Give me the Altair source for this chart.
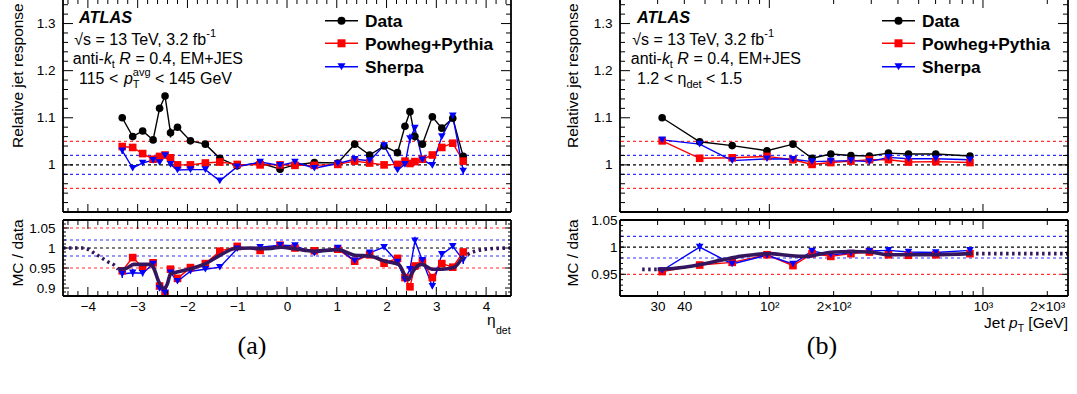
import altair as alt
import numpy as np
import pandas as pd

# ---------------- (a) relative response vs eta_det, 115 < pT^avg < 145 GeV ----------------
eta_bins = [-3.31, -3.10, -2.90, -2.69, -2.56, -2.45, -2.34, -2.20, -1.94, -1.64, -1.35, -1.00, -0.54, -0.14,
            0.16, 0.55, 1.02, 1.36, 1.66, 1.95, 2.22, 2.37, 2.47, 2.57, 2.72, 2.92, 3.11, 3.33, 3.54]
resp_data_eta = [1.100, 1.060, 1.072, 1.053, 1.120, 1.146, 1.068, 1.080, 1.051, 1.044, 1.014, 0.998, 1.004, 0.991,
                 1.000, 1.005, 1.004, 1.044, 1.021, 1.040, 1.026, 1.082, 1.113, 1.060, 1.044, 1.102, 1.078, 1.099, 1.018]
resp_powheg_eta = [1.039, 1.037, 1.024, 1.012, 1.018, 1.021, 1.015, 1.000, 1.000, 1.004, 1.006, 1.001, 1.000, 1.000,
                   0.999, 0.999, 1.001, 1.008, 1.004, 1.000, 1.001, 1.008, 1.003, 1.007, 1.012, 1.021, 1.037, 1.046, 1.008]
resp_sherpa_eta = [1.030, 0.993, 1.004, 1.010, 1.005, 1.020, 1.001, 0.989, 0.990, 0.990, 0.966, 0.996, 1.006, 0.999,
                   1.006, 0.993, 1.003, 1.012, 1.009, 1.041, 0.989, 1.001, 1.056, 1.078, 1.011, 0.999, 1.060, 1.104, 0.987]
err_data_eta = [0.003, 0.004, 0.005, 0.005, 0.005, 0.005, 0.010, 0.004, 0.003, 0.003, 0.003, 0.002, 0.002, 0.002,
                0.002, 0.002, 0.002, 0.003, 0.003, 0.003, 0.003, 0.005, 0.005, 0.008, 0.005, 0.005, 0.004, 0.004, 0.004]
err_powheg_eta = [0.002, 0.002, 0.002, 0.002, 0.002, 0.002, 0.002, 0.002, 0.002, 0.002, 0.002, 0.002, 0.002, 0.002,
                  0.002, 0.002, 0.002, 0.002, 0.002, 0.002, 0.002, 0.002, 0.002, 0.002, 0.002, 0.002, 0.002, 0.002, 0.002]
err_sherpa_eta = [0.007, 0.003, 0.003, 0.003, 0.004, 0.004, 0.003, 0.003, 0.002, 0.002, 0.002, 0.002, 0.002, 0.002,
                  0.002, 0.002, 0.002, 0.002, 0.003, 0.003, 0.003, 0.004, 0.010, 0.005, 0.004, 0.004, 0.004, 0.004, 0.008]
ratio_powheg_eta = [0.943, 0.976, 0.952, 0.963, 0.905, 0.885, 0.947, 0.924, 0.951, 0.961, 0.992, 1.004, 0.994, 1.007,
                    1.000, 0.993, 0.997, 0.967, 0.983, 0.962, 0.974, 0.926, 0.903, 0.955, 0.966, 0.926, 0.961, 0.952, 0.990]
ratio_sherpa_eta = [0.935, 0.938, 0.937, 0.960, 0.899, 0.888, 0.938, 0.917, 0.942, 0.947, 0.952, 0.998, 1.002, 1.007,
                    1.006, 0.987, 1.000, 0.968, 0.988, 1.002, 0.965, 0.921, 0.947, 1.018, 0.969, 0.904, 0.984, 1.004, 0.970]
err_rpowheg_eta = [0.004, 0.004, 0.004, 0.004, 0.005, 0.005, 0.005, 0.004, 0.003, 0.003, 0.003, 0.002, 0.002, 0.002,
                   0.002, 0.002, 0.002, 0.003, 0.003, 0.003, 0.003, 0.004, 0.005, 0.005, 0.004, 0.004, 0.004, 0.004, 0.004]
err_rsherpa_eta = [0.010, 0.010, 0.008, 0.004, 0.006, 0.006, 0.005, 0.004, 0.003, 0.003, 0.003, 0.002, 0.002, 0.002,
                   0.002, 0.002, 0.002, 0.003, 0.003, 0.003, 0.004, 0.005, 0.006, 0.010, 0.005, 0.005, 0.005, 0.005, 0.010]
# smoothed combination (solid inside the measured range, dotted extrapolation outside)
fit_eta_x = [-3.39, -3.25, -3.08, -2.93, -2.75, -2.68, -2.58, -2.48, -2.41, -2.34, -2.21, -2.00, -1.67, -1.33, -1.06,
             -0.73, -0.53, -0.32, -0.12, 0.15, 0.55, 1.02, 1.36, 1.66, 1.97, 2.24, 2.44, 2.51, 2.71, 2.91, 3.11, 3.35, 3.52]
fit_eta_y = [0.947, 0.948, 0.959, 0.959, 0.959, 0.950, 0.917, 0.899, 0.908, 0.935, 0.940, 0.946, 0.959, 0.983, 0.998,
             1.000, 0.998, 0.999, 1.002, 0.998, 0.992, 0.996, 0.982, 0.980, 0.967, 0.959, 0.921, 0.938, 0.959, 0.947,
             0.947, 0.951, 0.976]
fit_eta_lo_x = [-4.50, -4.09, -3.82, -3.62, -3.45, -3.39]
fit_eta_lo_y = [1.000, 1.000, 0.983, 0.967, 0.955, 0.947]
fit_eta_hi_x = [3.52, 3.78, 4.19, 4.50]
fit_eta_hi_y = [0.976, 0.992, 0.999, 1.000]

# ---------------- (b) relative response vs jet pT, 1.2 < eta_det < 1.5 ----------------
pt_bins = [31.5, 47.2, 67, 97.5, 129, 158.5, 194, 241, 294, 361, 448, 601, 869]
resp_data_pt = [1.100, 1.049, 1.041, 1.030, 1.044, 1.014, 1.023, 1.020, 1.019, 1.025, 1.023, 1.023, 1.019]
resp_powheg_pt = [1.051, 1.014, 1.015, 1.018, 1.011, 1.001, 1.005, 1.008, 1.011, 1.011, 1.006, 1.007, 1.005]
resp_sherpa_pt = [1.053, 1.044, 1.009, 1.013, 1.012, 1.007, 1.008, 1.009, 1.007, 1.016, 1.013, 1.013, 1.011]
err_data_pt = [0.002, 0.003, 0.002, 0.002, 0.002, 0.002, 0.002, 0.002, 0.002, 0.002, 0.002, 0.002, 0.002]
err_powheg_pt = [0.002, 0.002, 0.002, 0.002, 0.002, 0.002, 0.002, 0.002, 0.002, 0.002, 0.002, 0.002, 0.002]
err_sherpa_pt = [0.002, 0.003, 0.002, 0.002, 0.002, 0.002, 0.002, 0.002, 0.002, 0.002, 0.002, 0.002, 0.002]
ratio_powheg_pt = [0.955, 0.967, 0.972, 0.986, 0.966, 0.988, 0.983, 0.988, 0.991, 0.986, 0.985, 0.986, 0.988]
ratio_sherpa_pt = [0.957, 1.000, 0.969, 0.985, 0.969, 0.993, 0.986, 0.989, 0.993, 0.994, 0.991, 0.990, 0.994]
err_rpowheg_pt = [0.002, 0.003, 0.002, 0.002, 0.003, 0.002, 0.002, 0.002, 0.002, 0.002, 0.002, 0.002, 0.002]
err_rsherpa_pt = [0.003, 0.008, 0.003, 0.003, 0.004, 0.003, 0.002, 0.002, 0.002, 0.002, 0.002, 0.002, 0.002]
fit_pt_x = [30, 40, 47.5, 61, 73, 84.5, 100.5, 121, 150, 167, 200, 241, 297, 355, 586, 870]
fit_pt_y = [0.959, 0.963, 0.968, 0.977, 0.983, 0.986, 0.988, 0.985, 0.983, 0.986, 0.991, 0.992, 0.991, 0.986, 0.986, 0.988]
fit_pt_lo_x = [25.4, 30]
fit_pt_lo_y = [0.959, 0.959]
fit_pt_hi_x = [870, 2500]
fit_pt_hi_y = [0.988, 0.988]

# ---------------- styling ----------------
SERIES = ["Data", "Powheg+Pythia", "Sherpa"]
COLORS = ["#000000", "#ff0000", "#0000ff"]
SHAPES = ["circle", "square", "triangle-down"]
SANS = "Liberation Sans"
SERIF = "Liberation Serif"
PURPLE = "#33165e"
W, HT, HB = 448, 212, 76
FS = 16          # annotation font size
SUB = 11         # sub/superscript font size
one = pd.DataFrame({"k": [0]})

AR = {' ': 278, '(': 333, ')': 333, '+': 584, ',': 278, '-': 333, '.': 278, '/': 278, '<': 584, '=': 584,
      '[': 278, ']': 278, 'A': 667, 'E': 667, 'G': 778, 'J': 500, 'M': 833, 'R': 722, 'S': 667, 'T': 611,
      'V': 667, 'a': 556, 'b': 556, 'd': 556, 'e': 556, 'f': 278, 'g': 556, 'i': 222, 'k': 500, 'n': 556,
      'o': 556, 'p': 556, 's': 500, 't': 278, 'v': 500, '√': 549, 'η': 556, '×': 584, 'l': 222}


def tw(s, size):
    return sum(AR.get(c, 556) for c in s) * size / 1000.0


def text(s, x, y, size=FS, weight="normal", style="normal", align="left", baseline="alphabetic",
         angle=0, font=SANS, color="black"):
    return alt.Chart(one).mark_text(text=s, fontSize=size, fontWeight=weight, fontStyle=style, align=align,
                                    baseline=baseline, angle=angle, font=font, color=color).encode(
        x=alt.value(x), y=alt.value(y))


def rchain(parts, xe, y):
    """Lay out a line of mixed text segments from its right end (SVG trims edge spaces)."""
    out, cur = [], xe
    for p in reversed(parts):
        if p[0] == "STACK":
            wmax = max(tw(t, s) for t, s, dy in p[1])
            cur -= wmax
            for t, s, dy in p[1]:
                out.append(text(t, cur, y + dy, size=s))
            continue
        t, size, style, dy = p
        cur -= tw(" " * (len(t) - len(t.rstrip(" "))), size)
        core = t.strip(" ")
        out.append(text(core, cur, y + dy, size=size, style=style, align="right"))
        cur -= tw(core, size)
        cur -= tw(" " * (len(t) - len(t.lstrip(" "))), size)
    return out


def lchain(parts, x0, y):
    """Lay out a line of mixed text segments from its left end."""
    out, cur = [], x0
    for p in parts:
        if p[0] == "STACK":
            for t, s, dy in p[1]:
                out.append(text(t, cur, y + dy, size=s))
            cur += max(tw(t, s) for t, s, dy in p[1])
            continue
        t, size, style, dy = p
        cur += tw(" " * (len(t) - len(t.lstrip(" "))), size)
        core = t.strip(" ")
        out.append(text(core, cur, y + dy, size=size, style=style))
        cur += tw(core, size)
        cur += tw(" " * (len(t) - len(t.rstrip(" "))), size)
    return out


def rule(x1, x2, y1, y2, color="black", width=1.8):
    return alt.Chart(one).mark_rule(color=color, strokeWidth=width).encode(
        x=alt.value(x1), x2=alt.value(x2), y=alt.value(y1), y2=alt.value(y2))


def frame(H, top=True):
    out = [rule(0, 0, 0, H), rule(W, W, 0, H), rule(0, W, H, H)]
    if top:
        out.append(rule(0, W, 0, 0))
    return out


def ticks(X, Y, H, xmaj, xmin, ymaj, ymin, lx, ly):
    out = []
    for vals, L in ((xmaj, lx[0]), (xmin, lx[1])):
        c = alt.Chart(pd.DataFrame({"v": vals})).mark_rule(color="black", strokeWidth=1)
        out.append(c.encode(x=X("v"), y=alt.value(H), y2=alt.value(H - L)))
        out.append(c.encode(x=X("v"), y=alt.value(0), y2=alt.value(L)))
    for vals, L in ((ymaj, ly[0]), (ymin, ly[1])):
        c = alt.Chart(pd.DataFrame({"v": vals})).mark_rule(color="black", strokeWidth=1)
        out.append(c.encode(y=Y("v"), x=alt.value(0), x2=alt.value(L)))
        out.append(c.encode(y=Y("v"), x=alt.value(W), x2=alt.value(W - L)))
    return out


def long_df(x, ys, errs):
    rows = []
    for name, yv, ev in zip(SERIES, ys, errs):
        if yv is None:
            continue
        for xi, yi, ei in zip(x, yv, ev):
            rows.append({"x": xi, "y": yi, "lo": yi - ei, "hi": yi + ei, "s": name})
    return pd.DataFrame(rows)


def ref_lines(Y, levels, colors):
    df = pd.DataFrame({"v": levels, "c": colors})
    return alt.Chart(df).mark_rule(strokeDash=[3, 3], strokeWidth=1.2).encode(
        y=Y("v"), color=alt.Color("c:N", scale=None))


def data_layers(X, Y, df):
    col = alt.Color("s:N", scale=alt.Scale(domain=SERIES, range=COLORS), legend=None)
    shp = alt.Shape("s:N", scale=alt.Scale(domain=SERIES, range=SHAPES), legend=None)
    base = alt.Chart(df)
    return [
        base.mark_line(strokeWidth=1.4, clip=True).encode(x=X("x"), y=Y("y"), color=col),
        base.mark_rule(strokeWidth=1.4, clip=True).encode(x=X("x"), y=Y("lo"), y2="hi", color=col),
        base.mark_point(filled=True, opacity=1, size=58, clip=True).encode(x=X("x"), y=Y("y"), color=col, shape=shp),
    ]


def fit_layers(X, Y, sx, sy, lx, ly, hx, hy):
    out = [alt.Chart(pd.DataFrame({"x": sx, "y": sy})).mark_line(
        color=PURPLE, strokeWidth=3.6, interpolate="monotone", clip=True).encode(x=X("x"), y=Y("y"))]
    for ax, ay in ((lx, ly), (hx, hy)):
        out.append(alt.Chart(pd.DataFrame({"x": ax, "y": ay})).mark_line(
            color=PURPLE, strokeWidth=3.6, strokeDash=[2.5, 3.5], interpolate="monotone", clip=True).encode(
            x=X("x"), y=Y("y")))
    return out


def legend_layers():
    out = []
    for i, (name, c, shp) in enumerate(zip(SERIES, COLORS, SHAPES)):
        yl = [20.7, 43.3, 66.7][i]
        out.append(alt.Chart(one).mark_rule(color=c, strokeWidth=1.6).encode(
            x=alt.value(262), x2=alt.value(295), y=alt.value(yl)))
        out.append(alt.Chart(one).mark_point(filled=True, opacity=1, size=64, shape=shp, color=c).encode(
            x=alt.value(278.5), y=alt.value(yl)))
        out.append(text(name, 302, yl + 6.2, size=17.3, weight="bold"))
    return out


def atlas_block(x0, ends, last_line):
    out = [text("ATLAS", x0, 23, size=16.3, weight="bold", style="italic")]
    out += rchain([("√s = 13 TeV, 3.2 fb", FS, "normal", 0), ("-1", SUB, "normal", -8)], ends[0], 45)
    out += rchain([("anti-", FS, "normal", 0), ("k", FS, "italic", 0), ("t", SUB, "normal", 3.5),
                   (" R", FS, "italic", 0), (" = 0.4, EM+JES", FS, "normal", 0)], ends[1], 64)
    out += lchain(last_line, x0, 84)
    return out


def axis_lab(values, pad, fmt=None, expr=None):
    kw = dict(values=values, title=None, labelPadding=pad, labelFont=SANS, labelFontSize=13.5,
              labelColor="black", ticks=False, domain=False, grid=False, labelOverlap=False, labelFlush=False)
    if fmt:
        kw["format"] = fmt
    if expr:
        kw["labelExpr"] = expr
    return alt.Axis(**kw)


def enc(ch, scale, axis):
    def f(field):
        return ch(field, type="quantitative", scale=scale, axis=axis)
    return f


# ---------------- scales ----------------
sx_eta = alt.Scale(domain=[-4.5, 4.5], nice=False, zero=False)
sx_pt = alt.Scale(type="log", domain=[20, 2500], nice=False)
sy_top = alt.Scale(domain=[0.9, 1.35], nice=False, zero=False)
sy_botL = alt.Scale(domain=[0.88, 1.07], nice=False, zero=False)
sy_botR = alt.Scale(domain=[0.91, 1.05], nice=False, zero=False)

eta_major = [-4, -3, -2, -1, 0, 1, 2, 3, 4]
eta_minor = [round(v, 2) for v in np.arange(-4.4, 4.41, 0.2) if abs(v - round(v)) > 1e-6]
pt_major = [100, 1000]
pt_minor = [20, 30, 40, 50, 60, 70, 80, 90, 200, 300, 400, 500, 600, 700, 800, 900, 2000]
ytop_major = [1.0, 1.1, 1.2, 1.3]
ytop_minor = [round(v, 3) for v in np.arange(0.92, 1.35, 0.02) if abs(v * 10 - round(v * 10)) > 1e-6]
yb_minor_L = [round(v, 3) for v in np.arange(0.89, 1.07, 0.01) if abs(v * 20 - round(v * 20)) > 1e-6]
yb_minor_R = [round(v, 3) for v in np.arange(0.92, 1.05, 0.01) if abs(v * 20 - round(v * 20)) > 1e-6]
REF_LEVELS = [1.05, 0.95, 1.02, 0.98, 1.0]
REF_COLORS = ["#ff3030", "#ff3030", "#3030ff", "#3030ff", "#000000"]

pt_expr = ("datum.value == 100 ? '10²' : datum.value == 200 ? '2×10²' : datum.value == 1000 ? '10³' : "
           "datum.value == 2000 ? '2×10³' : datum.label")

# ---------------- top left ----------------
X = enc(alt.X, sx_eta, None)
Y = enc(alt.Y, sy_top, axis_lab(ytop_major, 8, fmt="~g"))
df = long_df(eta_bins, [resp_data_eta, resp_powheg_eta, resp_sherpa_eta], [err_data_eta, err_powheg_eta, err_sherpa_eta])
L = [ref_lines(Y, REF_LEVELS, REF_COLORS)]
L += data_layers(X, Y, df)
L += ticks(X, Y, HT, eta_major, eta_minor, ytop_major, ytop_minor, (8, 4), (10, 5))
L += frame(HT, top=False)
L += legend_layers()
L += atlas_block(16, (153, 180, None),
                 [("115 < ", FS, "normal", 0), ("p", FS, "italic", 0),
                  ("STACK", [("avg", SUB, -8), ("T", SUB, 4)]), (" < 145 GeV", FS, "normal", 0)])
L += [text("Relative jet response", -45, 148, size=15.5, angle=270, baseline="middle")]
TL = alt.layer(*L).properties(width=W, height=HT)

# ---------------- bottom left ----------------
X = enc(alt.X, sx_eta, axis_lab(eta_major, 3))
Y = enc(alt.Y, sy_botL, axis_lab([0.9, 0.95, 1.0, 1.05], 8, fmt="~g"))
df = long_df(eta_bins, [None, ratio_powheg_eta, ratio_sherpa_eta], [None, err_rpowheg_eta, err_rsherpa_eta])
L = [ref_lines(Y, REF_LEVELS, REF_COLORS)]
L += data_layers(X, Y, df)
L += fit_layers(X, Y, fit_eta_x, fit_eta_y, fit_eta_lo_x, fit_eta_lo_y, fit_eta_hi_x, fit_eta_hi_y)
L += ticks(X, Y, HB, eta_major, eta_minor, [0.9, 0.95, 1.0, 1.05], yb_minor_L, (9, 5), (6, 3))
L += frame(HB)
L += [text("MC / data", -45, 33, size=15.5, angle=270, baseline="middle", align="center")]
L += [text("η", 424, 105, size=15.5), text("det", 433, 114, size=10.5)]
L += [text("(a)", 189, 134, size=26, font=SERIF, align="center")]
BL = alt.layer(*L).properties(width=W, height=HB)

# ---------------- top right ----------------
X = enc(alt.X, sx_pt, None)
Y = enc(alt.Y, sy_top, axis_lab(ytop_major, 8, fmt="~g"))
df = long_df(pt_bins, [resp_data_pt, resp_powheg_pt, resp_sherpa_pt], [err_data_pt, err_powheg_pt, err_sherpa_pt])
L = [ref_lines(Y, REF_LEVELS, REF_COLORS)]
L += data_layers(X, Y, df)
L += ticks(X, Y, HT, pt_major, pt_minor, ytop_major, ytop_minor, (8, 4), (10, 5))
L += frame(HT, top=False)
L += legend_layers()
L += atlas_block(17, (154, 181, None),
                 [("1.2 < η", FS, "normal", 0), ("det", SUB, "normal", 4), (" < 1.5", FS, "normal", 0)])
L += [text("Relative jet response", -47, 148, size=15.5, angle=270, baseline="middle")]
TR = alt.layer(*L).properties(width=W, height=HT)

# ---------------- bottom right ----------------
X = enc(alt.X, sx_pt, axis_lab([30, 40, 100, 200, 1000, 2000], 3, expr=pt_expr))
Y = enc(alt.Y, sy_botR, axis_lab([0.95, 1.0, 1.05], 3, fmt="~g"))
df = long_df(pt_bins, [None, ratio_powheg_pt, ratio_sherpa_pt], [None, err_rpowheg_pt, err_rsherpa_pt])
L = [ref_lines(Y, REF_LEVELS, ["#b00000"] + REF_COLORS[1:])]
L += data_layers(X, Y, df)
L += fit_layers(X, Y, fit_pt_x, fit_pt_y, fit_pt_lo_x, fit_pt_lo_y, fit_pt_hi_x, fit_pt_hi_y)
L += ticks(X, Y, HB, pt_major, pt_minor, [0.95, 1.0, 1.05], yb_minor_R, (9, 5), (6, 3))
L += frame(HB)
L += [text("MC / data", -47, 33, size=15.5, angle=270, baseline="middle", align="center")]
L += rchain([("Jet ", 15.5, "normal", 0), ("p", 15.5, "italic", 0), ("T", 10.5, "normal", 4),
             (" [GeV]", 15.5, "normal", 0)], W, 108)
L += [text("(b)", 202, 134, size=26, font=SERIF, align="center")]
BR = alt.layer(*L).properties(width=W, height=HB)

chart = alt.concat(TL, TR, BL, BR, columns=2, spacing={"row": 8, "column": 109}, bounds="flush").properties(
    autosize=alt.AutoSizeParams(type="none"),
    padding={"left": 63, "top": 0, "right": 1014, "bottom": 394},
    background="white",
).configure_view(stroke=None)

chart.save("out.html", embed_options={"renderer": "svg", "actions": False})
